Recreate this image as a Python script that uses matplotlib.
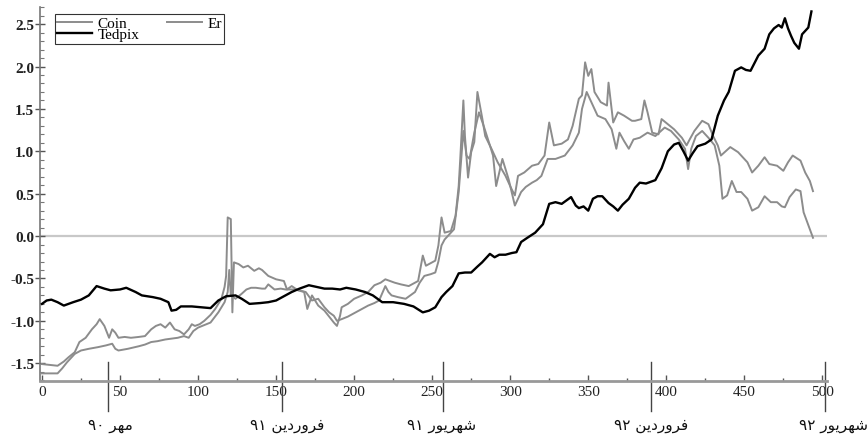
import matplotlib

matplotlib.use("Agg")
import matplotlib.pyplot as plt
from matplotlib.ticker import MultipleLocator, FormatStrFormatter

# Standardised series, indexed by trading day.
COIN_X = [0, 5, 10, 14, 17, 21, 24, 28, 32, 35, 37, 40, 43, 45, 47, 49, 53, 57, 62, 66,
          70, 73, 76, 79, 82, 85, 88, 91, 94, 96, 98, 101, 104, 108, 111, 115, 117, 118, 119, 121,
          122, 123, 126, 129, 132, 136, 139, 141, 145, 150, 155, 157, 160, 164, 168, 170, 173, 177, 181, 184,
          187, 189, 191, 192, 196, 200, 205, 209, 213, 217, 220, 223, 226, 230, 235, 238, 241, 244, 246, 249,
          252, 254, 256, 258, 262, 265, 267, 268, 269, 270, 271, 273, 275, 277, 279, 282, 284, 288, 292, 297,
          301, 303, 305, 309, 314, 318, 322, 325, 328, 333, 337, 340, 344, 346, 348, 350, 352, 354, 358, 362,
          363, 366, 369, 373, 378, 380, 384, 386, 388, 391, 395, 397, 401, 405, 410, 413, 415, 418, 423, 427,
          430, 433, 435, 441, 446, 452, 455, 459, 463, 466, 471, 475, 478, 481, 486, 489, 492, 494]
COIN_Y = [-1.51, -1.52, -1.53, -1.48, -1.43, -1.37, -1.25, -1.20, -1.10, -1.04, -0.98, -1.06, -1.20, -1.10, -1.14, -1.20, -1.19, -1.20, -1.19, -1.18,
          -1.10, -1.06, -1.04, -1.08, -1.02, -1.10, -1.12, -1.16, -1.10, -1.04, -1.06, -1.04, -1.00, -0.93, -0.86, -0.74, -0.60, -0.47, 0.22, 0.20,
          -0.90, -0.31, -0.33, -0.37, -0.35, -0.41, -0.38, -0.40, -0.47, -0.51, -0.53, -0.63, -0.59, -0.64, -0.66, -0.86, -0.70, -0.82, -0.88, -0.95,
          -1.02, -1.06, -0.94, -0.84, -0.80, -0.74, -0.70, -0.66, -0.58, -0.55, -0.51, -0.53, -0.55, -0.57, -0.59, -0.56, -0.53, -0.23, -0.35, -0.32,
          -0.29, -0.11, 0.22, 0.04, 0.06, 0.24, 0.59, 0.91, 1.26, 1.60, 1.18, 0.69, 0.99, 1.11, 1.70, 1.40, 1.18, 1.03, 0.87, 0.71,
          0.55, 0.48, 0.71, 0.75, 0.83, 0.85, 0.95, 1.34, 1.07, 1.09, 1.14, 1.30, 1.62, 1.66, 2.05, 1.89, 1.97, 1.70, 1.58, 1.54,
          1.81, 1.34, 1.46, 1.42, 1.36, 1.36, 1.38, 1.60, 1.46, 1.22, 1.20, 1.38, 1.32, 1.26, 1.16, 1.07, 1.14, 1.24, 1.36, 1.32,
          1.18, 1.07, 0.95, 1.05, 0.99, 0.87, 0.75, 0.83, 0.93, 0.85, 0.83, 0.77, 0.87, 0.95, 0.89, 0.75, 0.65, 0.53]

ER_X = [0, 5, 10, 13, 16, 21, 25, 30, 36, 41, 45, 47, 49, 55, 62, 66, 70, 74, 79, 83,
        87, 91, 94, 97, 100, 104, 108, 113, 117, 119, 120, 121, 124, 128, 131, 134, 137, 141, 143, 145,
        149, 153, 156, 162, 165, 169, 173, 177, 181, 184, 187, 189, 192, 196, 201, 205, 209, 213, 216, 220,
        222, 224, 228, 233, 236, 239, 242, 245, 249, 252, 254, 256, 258, 260, 264, 267, 269, 270, 272, 274,
        277, 280, 283, 287, 289, 291, 295, 299, 303, 307, 310, 314, 317, 320, 324, 329, 332, 335, 340, 344,
        346, 349, 352, 356, 361, 365, 368, 370, 373, 376, 379, 383, 388, 393, 399, 403, 408, 412, 414, 416,
        419, 423, 427, 431, 434, 436, 439, 442, 445, 448, 452, 455, 459, 463, 467, 471, 474, 476, 479, 483,
        486, 488, 490, 492, 494]
ER_Y = [-1.62, -1.62, -1.62, -1.56, -1.49, -1.39, -1.35, -1.33, -1.31, -1.29, -1.27, -1.33, -1.35, -1.33, -1.30, -1.28, -1.25, -1.24, -1.22, -1.21,
        -1.20, -1.18, -1.20, -1.12, -1.08, -1.05, -1.02, -0.90, -0.78, -0.66, -0.40, -0.70, -0.74, -0.68, -0.63, -0.61, -0.61, -0.62, -0.62, -0.57,
        -0.63, -0.62, -0.63, -0.63, -0.64, -0.66, -0.76, -0.74, -0.84, -0.90, -0.94, -1.00, -0.98, -0.95, -0.90, -0.86, -0.82, -0.79, -0.76, -0.59,
        -0.66, -0.70, -0.72, -0.74, -0.70, -0.66, -0.55, -0.47, -0.45, -0.43, -0.30, -0.11, -0.04, 0.00, 0.08, 0.52, 0.99, 1.24, 0.95, 0.91,
        1.22, 1.46, 1.30, 1.07, 0.95, 0.59, 0.91, 0.67, 0.36, 0.52, 0.58, 0.63, 0.66, 0.71, 0.91, 0.91, 0.93, 0.95, 1.07, 1.22,
        1.50, 1.70, 1.58, 1.42, 1.38, 1.26, 1.03, 1.22, 1.12, 1.03, 1.14, 1.16, 1.22, 1.18, 1.28, 1.24, 1.14, 1.03, 0.79, 1.03,
        1.18, 1.24, 1.16, 1.07, 0.83, 0.44, 0.48, 0.65, 0.52, 0.52, 0.44, 0.30, 0.34, 0.47, 0.40, 0.40, 0.35, 0.34, 0.46, 0.55,
        0.53, 0.28, 0.18, 0.08, -0.02]

TEDPIX_X = [0, 3, 6, 10, 14, 20, 25, 30, 35, 40, 44, 50, 54, 60, 64, 71, 76, 81, 83, 86,
            89, 96, 102, 108, 113, 118, 124, 128, 133, 140, 145, 150, 156, 160, 165, 171, 176, 181, 186, 191,
            195, 201, 207, 212, 218, 225, 232, 238, 244, 248, 252, 256, 259, 263, 267, 271, 275, 279, 282, 287,
            290, 293, 297, 301, 304, 307, 311, 316, 321, 325, 329, 333, 336, 339, 342, 344, 347, 350, 353, 356,
            359, 363, 366, 369, 372, 376, 380, 383, 387, 393, 397, 401, 405, 408, 411, 414, 417, 420, 425, 429,
            433, 437, 440, 444, 448, 451, 454, 459, 463, 466, 469, 472, 474, 476, 478, 480, 482, 485, 487, 489,
            491, 493]
TEDPIX_Y = [-0.80, -0.76, -0.75, -0.78, -0.82, -0.78, -0.75, -0.70, -0.59, -0.62, -0.64, -0.63, -0.61, -0.66, -0.70, -0.72, -0.74, -0.78, -0.88, -0.87,
            -0.83, -0.83, -0.84, -0.85, -0.76, -0.71, -0.70, -0.74, -0.80, -0.79, -0.78, -0.76, -0.70, -0.66, -0.62, -0.58, -0.60, -0.62, -0.62, -0.63,
            -0.61, -0.63, -0.66, -0.70, -0.78, -0.78, -0.80, -0.83, -0.90, -0.88, -0.84, -0.72, -0.66, -0.59, -0.44, -0.43, -0.43, -0.36, -0.31, -0.21,
            -0.25, -0.22, -0.22, -0.20, -0.19, -0.07, -0.02, 0.04, 0.14, 0.38, 0.40, 0.38, 0.42, 0.46, 0.36, 0.33, 0.35, 0.30, 0.44, 0.47,
            0.47, 0.39, 0.35, 0.30, 0.37, 0.44, 0.57, 0.63, 0.62, 0.66, 0.80, 1.00, 1.08, 1.10, 1.00, 0.89, 0.98, 1.06, 1.09, 1.14,
            1.42, 1.60, 1.70, 1.95, 1.99, 1.96, 1.95, 2.13, 2.21, 2.38, 2.45, 2.49, 2.46, 2.57, 2.45, 2.36, 2.28, 2.21, 2.38, 2.42,
            2.46, 2.65]

# Calendar markers under the axis: (day index, month, year digits)
MARK_X = [42, 154, 257, 390, 502]
MARK_LABEL_X = [44, 157, 256, 390, 507]
MARK_MONTH = ["مهر", "فروردین", "شهریور", "فروردین", "شهریور"]
MARK_YEAR = ["۹۰", "۹۱", "۹۱", "۹۲", "۹۲"]

# Presentation forms (isolated, final, initial, medial) for the letters used,
# since matplotlib does no Arabic-script shaping of its own.
FORMS = {
    "م": "\uFEE1\uFEE2\uFEE3\uFEE4",
    "ه": "\uFEE9\uFEEA\uFEEB\uFEEC",
    "ف": "\uFED1\uFED2\uFED3\uFED4",
    "ی": "\uFBFC\uFBFD\uFBFE\uFBFF",
    "ن": "\uFEE5\uFEE6\uFEE7\uFEE8",
    "ش": "\uFEB5\uFEB6\uFEB7\uFEB8",
    "ر": "\uFEAD\uFEAE",
    "و": "\uFEED\uFEEE",
    "د": "\uFEA9\uFEAA",
}


def shape(word):
    out = []
    for i, ch in enumerate(word):
        prev = word[i - 1] if i else ""
        nxt = word[i + 1] if i + 1 < len(word) else ""
        join_prev = prev in FORMS and len(FORMS[prev]) == 4
        join_next = nxt in FORMS and len(FORMS[ch]) == 4
        out.append(FORMS[ch][int(join_prev) + 2 * int(join_next)])
    return "".join(reversed(out))


GRAY = "#8c8c8c"
SERIF = ["Liberation Serif", "DejaVu Serif"]

fig = plt.figure(figsize=(8.67, 4.39), dpi=100)
ax = fig.add_axes([0.0466, 0.1298, 0.9073, 0.8515])

ax.axhline(0, color="#c8c8c8", lw=1.6, zorder=1)
coin, = ax.plot(COIN_X, COIN_Y, color=GRAY, lw=1.4, label="Coin", zorder=2)
er, = ax.plot(ER_X, ER_Y, color=GRAY, lw=1.4, label="Er", zorder=2)
ted, = ax.plot(TEDPIX_X, TEDPIX_Y, color="black", lw=1.7, label="Tedpix", zorder=3)

ax.set_xlim(-1, 503)
ax.set_ylim(-1.71, 2.70)

for side in ("top", "right"):
    ax.spines[side].set_visible(False)
ax.spines["left"].set_color("#777777")
ax.spines["left"].set_linewidth(1.2)
ax.spines["bottom"].set_color("#999999")
ax.spines["bottom"].set_linewidth(2.0)

ax.xaxis.set_major_locator(MultipleLocator(50))
ax.xaxis.set_minor_locator(MultipleLocator(25))
ax.yaxis.set_major_locator(MultipleLocator(0.5))
ax.yaxis.set_minor_locator(MultipleLocator(0.1))
ax.yaxis.set_major_formatter(FormatStrFormatter("%.1f"))

ax.tick_params(axis="x", which="major", direction="in", length=4, width=1,
               color="#555555", pad=3, labelsize=11, labelcolor="#222222")
ax.tick_params(axis="x", which="minor", direction="in", length=2, width=1, color="#555555")
ax.tick_params(axis="y", which="major", direction="inout", length=7, width=1,
               color="#555555", pad=1, labelsize=11, labelcolor="#222222")
ax.tick_params(axis="y", which="minor", direction="in", length=3, width=0.8, color="#777777")
for lab in ax.get_xticklabels() + ax.get_yticklabels():
    lab.set_family(SERIF)
for lab in ax.get_yticklabels():
    lab.set_fontweight("bold")

trans = ax.get_xaxis_transform()
for x in MARK_X:
    ax.plot([x, x], [0.05, -0.08], transform=trans, color="#444444", lw=1, clip_on=False)
for x, month, year in zip(MARK_LABEL_X, MARK_MONTH, MARK_YEAR):
    ax.text(x, -0.115, year + " " + shape(month), transform=trans, ha="center", va="center",
            fontsize=11, family=["DejaVu Sans"], color="#111111")

leg = ax.legend([coin, ted, er], ["Coin", "Tedpix", "Er"], ncol=2, loc="upper left",
                bbox_to_anchor=(0.018, 0.982), frameon=True, fancybox=False,
                prop={"family": SERIF, "size": 11}, handlelength=2.3, handletextpad=0.35,
                columnspacing=1.8, labelspacing=-0.15, borderpad=0.15, borderaxespad=0)
leg.get_frame().set_edgecolor("black")
leg.get_frame().set_linewidth(0.8)

fig.savefig("out.png", dpi=100)
